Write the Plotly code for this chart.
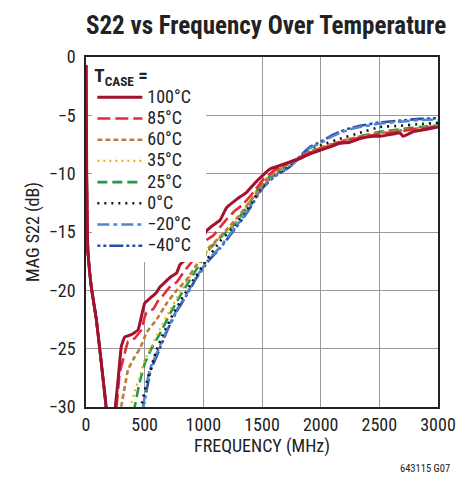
import plotly.graph_objects as go

# ---------------- data ----------------
labels = ["100°C", "85°C", "60°C", "35°C", "25°C", "0°C", "−20°C", "−40°C"]

# shared low-frequency descent (all curves overlap here)
f_low = [0, 3, 6, 10, 17, 45, 88, 128, 162, 190]
s_low = [-0.7, -5, -10, -14, -16.8, -19.7, -22.5, -26.0, -29.1, -31.5]

f_100 = [220, 250, 273, 301, 330, 386, 443, 471, 500, 543, 599, 631, 673, 716, 773, 801, 858, 915, 972, 1028,
         1085, 1142, 1199, 1284, 1369, 1440, 1511, 1568, 1653, 1739, 1824, 1909, 1994, 2080, 2165, 2250, 2335,
         2449, 2506, 2620, 2676, 2704, 2790, 2903, 3000]
s_100 = [-33, -30, -27.7, -24.8, -24.0, -23.8, -23.4, -22.3, -21.1, -20.7, -20.2, -19.7, -19.3, -18.9, -18.5, -17.8,
         -17.3, -16.9, -15.9, -14.9, -14.4, -14.0, -12.9, -12.2, -11.6, -10.8, -10.1, -9.6, -9.3, -9.0, -8.7, -8.3,
         -8.0, -7.7, -7.4, -7.3, -7.0, -6.8, -6.8, -6.6, -6.5, -6.8, -6.4, -6.2, -6.0]

f_85 = [230, 260, 287, 330, 358, 415, 471, 500, 517, 574, 614, 659, 716, 773, 801, 858, 915, 972, 1028, 1085,
        1142, 1199, 1256, 1341, 1426, 1511, 1568, 1653, 1739, 1824, 1909, 1994, 2080, 2165, 2250, 2335, 2449,
        2506, 2676, 2790, 2903, 3000]
s_85 = [-33, -30, -27.1, -25.4, -24.4, -24.1, -23.4, -22.3, -21.9, -21.6, -20.9, -20.4, -19.7, -19.3, -18.9, -18.1,
        -17.4, -16.7, -15.7, -15.3, -14.6, -13.9, -13.3, -12.6, -11.6, -10.5, -10.0, -9.4, -9.0, -8.6, -8.2, -7.9,
        -7.6, -7.3, -7.1, -6.9, -6.7, -6.6, -6.4, -6.2, -6.1, -5.9]

f_60 = [270, 300, 330, 358, 415, 460, 517, 602, 688, 773, 858, 943, 1028, 1085, 1142, 1199, 1312, 1426, 1511,
        1568, 1653, 1739, 1824, 1909, 1994, 2080, 2250, 2449, 2676, 2846, 3000]
s_60 = [-33, -30, -28.3, -26.8, -25.7, -25.0, -23.6, -22.5, -21.1, -20.0, -19.1, -17.8, -16.5, -16.0, -15.4, -14.8,
        -13.5, -12.0, -10.9, -10.3, -9.6, -9.1, -8.6, -8.1, -7.8, -7.5, -7.0, -6.6, -6.3, -6.1, -5.9]

f_35 = [350, 380, 420, 460, 500, 560, 631, 716, 801, 886, 972, 1042, 1142, 1250, 1369, 1500, 1600, 1739, 1824,
        1994, 2165, 2335, 2506, 2676, 2846, 3000]
s_35 = [-33, -30, -28.5, -27.3, -26.0, -24.8, -23.3, -21.7, -20.2, -18.8, -17.5, -16.6, -15.5, -14.4, -12.8,
        -10.7, -9.9, -9.1, -8.6, -7.8, -7.3, -6.9, -6.5, -6.3, -6.1, -5.9]

f_25 = [385, 415, 457, 500, 557, 631, 716, 801, 886, 972, 1042, 1142, 1250, 1369, 1500, 1600, 1739, 1824, 1994,
        2165, 2335, 2506, 2676, 2846, 3000]
s_25 = [-33, -30, -27.9, -26.3, -25.0, -23.7, -22.0, -20.5, -19.1, -17.7, -16.6, -15.5, -14.5, -12.9, -10.8,
        -10.0, -9.1, -8.6, -7.8, -7.3, -6.8, -6.4, -6.2, -6.0, -5.85]

f_0 = [440, 470, 520, 602, 659, 744, 829, 915, 1028, 1142, 1250, 1369, 1500, 1600, 1739, 1824, 1994, 2165, 2335,
       2506, 2676, 2846, 3000]
s_0 = [-33, -30, -27.8, -25.1, -23.7, -22.0, -20.5, -19.1, -17.4, -15.8, -14.6, -13.1, -11.1, -10.1, -9.2, -8.6,
       -7.6, -7.0, -6.5, -6.0, -5.9, -5.75, -5.65]

f_m20 = [455, 485, 543, 616, 688, 773, 858, 943, 1042, 1142, 1250, 1369, 1500, 1600, 1739, 1824, 1909, 1994,
         2080, 2165, 2250, 2335, 2506, 2676, 2846, 3000]
s_m20 = [-33, -30, -26.8, -25.1, -23.4, -21.7, -20.3, -18.8, -17.4, -16.3, -14.9, -13.3, -11.2, -10.2, -9.4,
         -8.6, -7.8, -7.4, -6.9, -6.5, -6.2, -6.0, -5.7, -5.55, -5.4, -5.35]

f_m40 = [460, 490, 550, 620, 690, 773, 858, 943, 1042, 1142, 1250, 1369, 1500, 1600, 1739, 1824, 1909, 1994,
         2080, 2165, 2250, 2335, 2506, 2676, 2846, 3000]
s_m40 = [-33, -30, -26.9, -25.2, -23.5, -21.8, -20.4, -18.9, -17.5, -16.4, -15.0, -13.4, -11.3, -10.3, -9.4,
         -8.5, -7.7, -7.3, -6.8, -6.4, -6.1, -5.9, -5.6, -5.45, -5.3, -5.25]

x_ticks = [0, 500, 1000, 1500, 2000, 2500, 3000]
y_ticks = [0, -5, -10, -15, -20, -25, -30]

# ---------------- styling ----------------
series = [
    (labels[7], f_m40, s_m40, "#2b4ea6", "3px,3px,3px,3px,14px,3px", 2.6),
    (labels[6], f_m20, s_m20, "#4f86cc", "12px,4px,4px,4px", 2.6),
    (labels[5], f_0, s_0, "#111111", "2px,5px", 2.6),
    (labels[4], f_25, s_25, "#1f9a4c", "10px,5px", 2.6),
    (labels[3], f_35, s_35, "#eeb111", "2px,4px", 2.2),
    (labels[2], f_60, s_60, "#bf7a3c", "5px,3px", 2.6),
    (labels[1], f_85, s_85, "#e52a3a", "13px,5px", 2.6),
    (labels[0], f_100, s_100, "#a3112e", "solid", 3.0),
]

FONT = "Liberation Sans Narrow, Roboto Condensed, DejaVu Sans Condensed, Arial Narrow, sans-serif"

fig = go.Figure()
for name, fx, sy, color, dash, w in series:
    fig.add_trace(go.Scatter(
        x=f_low + fx, y=s_low + sy, mode="lines",
        name="<span style='font-size:18px'>" + name + "</span>&nbsp;&nbsp;&nbsp;",
        line=dict(color=color, dash=dash, width=w, shape="spline", smoothing=0.3),
    ))

fig.update_layout(
    width=458, height=477,
    margin=dict(l=86, r=20, t=57, b=70, autoexpand=False),
    paper_bgcolor="white", plot_bgcolor="white",
    font=dict(family=FONT, size=17, color="#222222"),
    title=dict(text="<b>S22 vs Frequency Over Temperature</b>", x=266 / 458, xanchor="center",
               xref="container", y=1 - 25 / 477, yref="container", yanchor="middle",
               font=dict(family=FONT, size=25, color="#222222")),
    showlegend=True,
    legend=dict(
        x=0.018, y=1.0, xref="paper", yref="paper", xanchor="left", yanchor="top",
        bgcolor="white", borderwidth=0, traceorder="reversed",
        title=dict(text="<b>T<sub>CASE</sub> =</b>", font=dict(family=FONT, size=19)),
        font=dict(family=FONT, size=14), itemwidth=45, tracegroupgap=0,
    ),
    annotations=[dict(text="643115 G07", x=(452 - 86) / 352, y=(407 - 469) / 350,
                      xref="paper", yref="paper",
                      showarrow=False, xanchor="right", yanchor="middle",
                      font=dict(family=FONT, size=10.5, color="#222222"))],
)

fig.update_xaxes(
    range=[0, 3000], tickvals=x_ticks, ticktext=[str(v) for v in x_ticks],
    showgrid=True, gridcolor="#9a9a9a", gridwidth=1.3, automargin=False,
    showline=True, linecolor="#222222", linewidth=1.5, mirror=True,
    ticks="", ticklabelstandoff=1, zeroline=False,
    title=dict(text="FREQUENCY (MHz)", standoff=5, font=dict(family=FONT, size=18)),
    tickfont=dict(family=FONT, size=18),
)
fig.update_yaxes(
    range=[-30, 0], tickvals=y_ticks, ticktext=[str(v).replace("-", "−") for v in y_ticks],
    showgrid=True, gridcolor="#9a9a9a", gridwidth=1.3, automargin=False,
    showline=True, linecolor="#222222", linewidth=1.5, mirror=True,
    ticks="", ticklabelstandoff=5, zeroline=False,
    title=dict(text="MAG S22 (dB)", standoff=5, font=dict(family=FONT, size=18)),
    tickfont=dict(family=FONT, size=18),
)

fig.write_html("out.html", config={"displayModeBar": False},
               post_script="document.body.style.margin='0';")
